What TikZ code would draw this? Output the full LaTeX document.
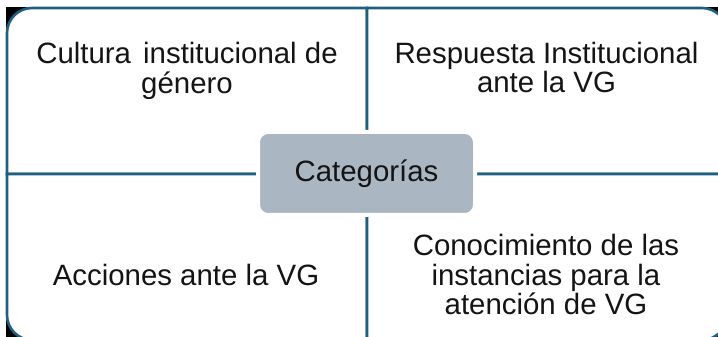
\documentclass[tikz,border=0pt]{standalone}
\usepackage{fontspec}
\setmainfont{Liberation Sans}
\definecolor{tealline}{RGB}{31,96,128}
\definecolor{boxfill}{RGB}{171,182,195}
\definecolor{txt}{RGB}{20,20,20}
\tikzset{
  quad/.style={draw=tealline, line width=2.6pt, fill=white, line join=miter},
  lbl/.style={align=center, inner sep=0pt, text=txt, font=\fontsize{29.4}{29.5}\selectfont},
  catbox/.style={draw=white, line width=4pt, fill=boxfill, rounded corners=10pt, minimum width=217pt, minimum height=83pt, inner sep=0pt, text=txt, font=\fontsize{29.4}{29.5}\selectfont}
}
\begin{document}
\begin{tikzpicture}[x=1pt,y=1pt]
\useasboundingbox (0,0) rectangle (718,337);
\fill[white] (0,0) rectangle (718,337);
\fill[black] (6,330) rectangle (735,-10);
% quadrants
\draw[quad] (7,163) -- (7,304) arc[start angle=180,end angle=90,radius=25] -- (367,329) -- (367,163) -- cycle;
\draw[quad] (367,163) -- (367,329) -- (702,329) arc[start angle=90,end angle=0,radius=25] -- (727,163) -- cycle;
\draw[quad] (7,163) -- (367,163) -- (367,-3) -- (32,-3) arc[start angle=270,end angle=180,radius=25] -- cycle;
\draw[quad] (367,163) -- (727,163) -- (727,22) arc[start angle=0,end angle=-90,radius=25] -- (367,-3) -- cycle;
% labels
\node[lbl] (tl) at (187,265.9) {Cultura\hspace{4pt} institucional de\\género};
\node[lbl] (tr) at (546.5,269.3) {Respuesta Institucional\\ante la VG};
\node[lbl, anchor=base] (bl) at (186,51) {Acciones ante la VG};
\node[lbl] (br) at (546,62.3) {Conocimiento de las\\instancias para la\\atención de VG};
% center
\node[catbox] (cat) at (366.5,163.5) {Categorías};
\end{tikzpicture}
\end{document}
